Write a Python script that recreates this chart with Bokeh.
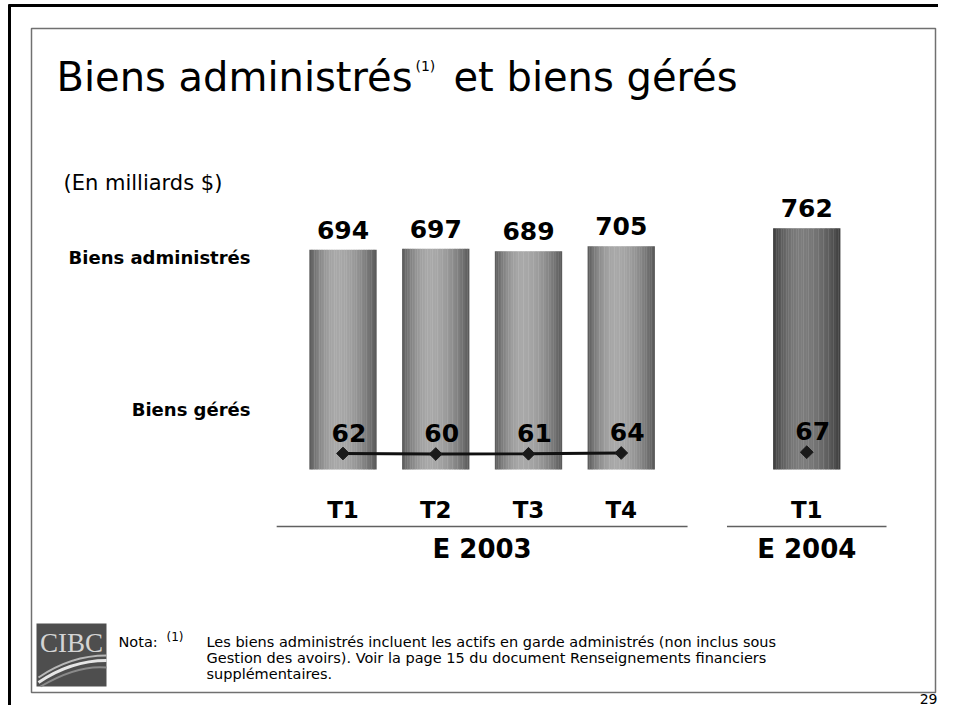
import math
from bokeh.plotting import figure
from bokeh.models import Range1d, ColumnDataSource
from bokeh.core.properties import value
from bokeh.embed import file_html
from bokeh.resources import INLINE

# ---------------- data ----------------
quarters = ["T1", "T2", "T3", "T4", "T1"]
years = ["E 2003", "E 2003", "E 2003", "E 2003", "E 2004"]
biens_administres = [694, 697, 689, 705, 762]
biens_geres = [62, 60, 61, 64, 67]

title_main = "Biens administrés"
title_sup = "(1)"
title_rest = "et biens gérés"
unit_label = "(En milliards $)"
row_label_admin = "Biens administrés"
row_label_geres = "Biens gérés"
note_head = "Nota:"
note_mark = "(1)"
note_lines = [
    "Les biens administrés incluent les actifs en garde administrés (non inclus sous",
    "Gestion des avoirs). Voir la page 15 du document Renseignements financiers",
    "supplémentaires.",
]
page_number = "29"

# ---------------- layout ----------------
W, H = 938, 705
SLOT0_PX, SLOT_PX = 342.5, 92.75  # first bar centre, distance between bars
BASE_PX = 469                   # picture y of value 0
K_ADMIN = 0.3166                # px per unit (biens administrés)
K_GERES = 0.258                 # px per unit (biens gérés)
BAR_W = 0.7224
FONT = "DejaVu Sans"

# slot positions from categories (one empty slot between years)
slots = []
s = 0
for i, yr in enumerate(years):
    if i > 0:
        s += 1 + (1 if yr != years[i - 1] else 0)
    slots.append(s)

p = figure(
    width=W, height=H,
    x_range=Range1d(-SLOT0_PX / SLOT_PX, (W - SLOT0_PX) / SLOT_PX),
    y_range=Range1d((BASE_PX - H) / K_ADMIN, BASE_PX / K_ADMIN),
    x_axis_type=None, y_axis_type=None,
    toolbar_location=None, output_backend="svg",
    min_border=0, outline_line_color=None,
    background_fill_color="white", border_fill_color="white",
)
p.extra_y_ranges = {
    "gm": Range1d((BASE_PX - H) / K_GERES, BASE_PX / K_GERES),
    "px": Range1d(H, 0),
}
p.extra_x_ranges = {"px": Range1d(0, W)}
p.grid.visible = False


def txt(x, y, text, size, style="normal", align="left", color="black", font=FONT,
        xr="px", yr="px", x_offset=0):
    xs = x if isinstance(x, list) else [x]
    ys = y if isinstance(y, list) else [y]
    ts = text if isinstance(text, list) else [text]
    p.text(x=xs, y=ys, text=ts, x_range_name=xr, y_range_name=yr,
           text_font=value(font), text_font_size=size, text_font_style=style,
           text_align=align, text_baseline="middle", text_color=color,
           x_offset=x_offset)


# ---------------- frames ----------------
p.line(x=[9, 9], y=[4, H], x_range_name="px", y_range_name="px",
       line_color="black", line_width=3)
p.line(x=[8, W], y=[5, 5], x_range_name="px", y_range_name="px",
       line_color="black", line_width=3)
p.quad(left=[31], right=[935], top=[28], bottom=[692], x_range_name="px", y_range_name="px",
       fill_color=None, line_color="#707070", line_width=1.5)

# ---------------- title & labels ----------------
txt(56, 76, title_main, "40px")
txt(415, 65, title_sup, "14px")
txt(453, 76, title_rest, "40px")
txt(63, 182, unit_label, "21px")
txt(250, 257, row_label_admin, "18px", style="bold", align="right")
txt(250, 409, row_label_geres, "18px", style="bold", align="right")

# ---------------- bars with cylinder shading ----------------
shades = {"E 2003": (88, 168), "E 2004": (60, 124)}
N = 40
for j in range(N):
    t = (j + 0.5) / N
    peak = 0.42
    d = (t - peak) / peak if t < peak else (t - peak) / (1 - peak)
    f = 1 - d * d
    cols = []
    for yr in years:
        lo, hi = shades[yr]
        g = int(round(lo + (hi - lo) * f))
        cols.append("#%02x%02x%02x" % (g, g, g))
    src = ColumnDataSource(dict(x=[sl + (t - 0.5) * BAR_W for sl in slots],
                                top=biens_administres, color=cols))
    p.vbar(x="x", top="top", bottom=0, width=BAR_W / N * 1.2, source=src,
           fill_color="color", line_color=None)

# value labels above the bars (label centre 20 px above the bar top)
txt(slots, [v + 20 / K_ADMIN for v in biens_administres],
    [str(v) for v in biens_administres], "25px", style="bold",
    align="center", xr="default", yr="default")

# ---------------- biens gérés line ----------------
for yr in dict.fromkeys(years):
    idx = [i for i, y in enumerate(years) if y == yr]
    if len(idx) > 1:
        p.line(x=[slots[i] for i in idx], y=[biens_geres[i] for i in idx],
               y_range_name="gm", line_color="#111111", line_width=2.8)
p.scatter(x=slots, y=biens_geres, y_range_name="gm", marker="square", angle=math.pi / 4,
          size=9, fill_color="#1a1a1a", line_color="#1a1a1a")
txt(slots, [v + 21 / K_GERES for v in biens_geres], [str(v) for v in biens_geres],
    "25px", style="bold", align="center", xr="default", yr="gm", x_offset=6)

# ---------------- category axis ----------------
txt(slots, [509] * len(slots), quarters, "23px", style="bold", align="center",
    xr="default")
line_pad = {"E 2003": 0.715, "E 2004": 0.86}
for yr in dict.fromkeys(years):
    gs = [slots[i] for i, y in enumerate(years) if y == yr]
    p.line(x=[min(gs) - line_pad[yr], max(gs) + line_pad[yr]], y=[526, 526],
           y_range_name="px", line_color="#606060", line_width=1.5)
    txt((min(gs) + max(gs)) / 2, 548, yr, "26px", style="bold", align="center",
        xr="default")

# ---------------- footnote & logo ----------------
p.quad(left=[36], right=[106], top=[623], bottom=[686], x_range_name="px", y_range_name="px",
       fill_color="#4e4e4e", line_color=None)
txt(71, 642, "CIBC", "27px", align="center", color="#d4d4d4", font="Liberation Serif")
p.bezier(x0=[38, 38, 40], y0=[682, 677, 686], x1=[106, 106, 106], y1=[660, 655, 667],
         cx0=[60, 60, 62], cy0=[667, 662, 673], cx1=[84, 84, 86], cy1=[660, 655, 665],
         x_range_name="px", y_range_name="px",
         line_color=["#e6e6e6", "#b8b8b8", "#8a8a8a"], line_width=[3, 2, 2])

txt(118, 641, note_head, "14.5px")
txt(166, 636, note_mark, "12px")
for k, ln in enumerate(note_lines):
    txt(206, 641 + 16 * k, ln, "14.5px")

txt(937, 698, page_number, "14px", align="right")

open("out.html", "w").write(file_html(p, INLINE))
